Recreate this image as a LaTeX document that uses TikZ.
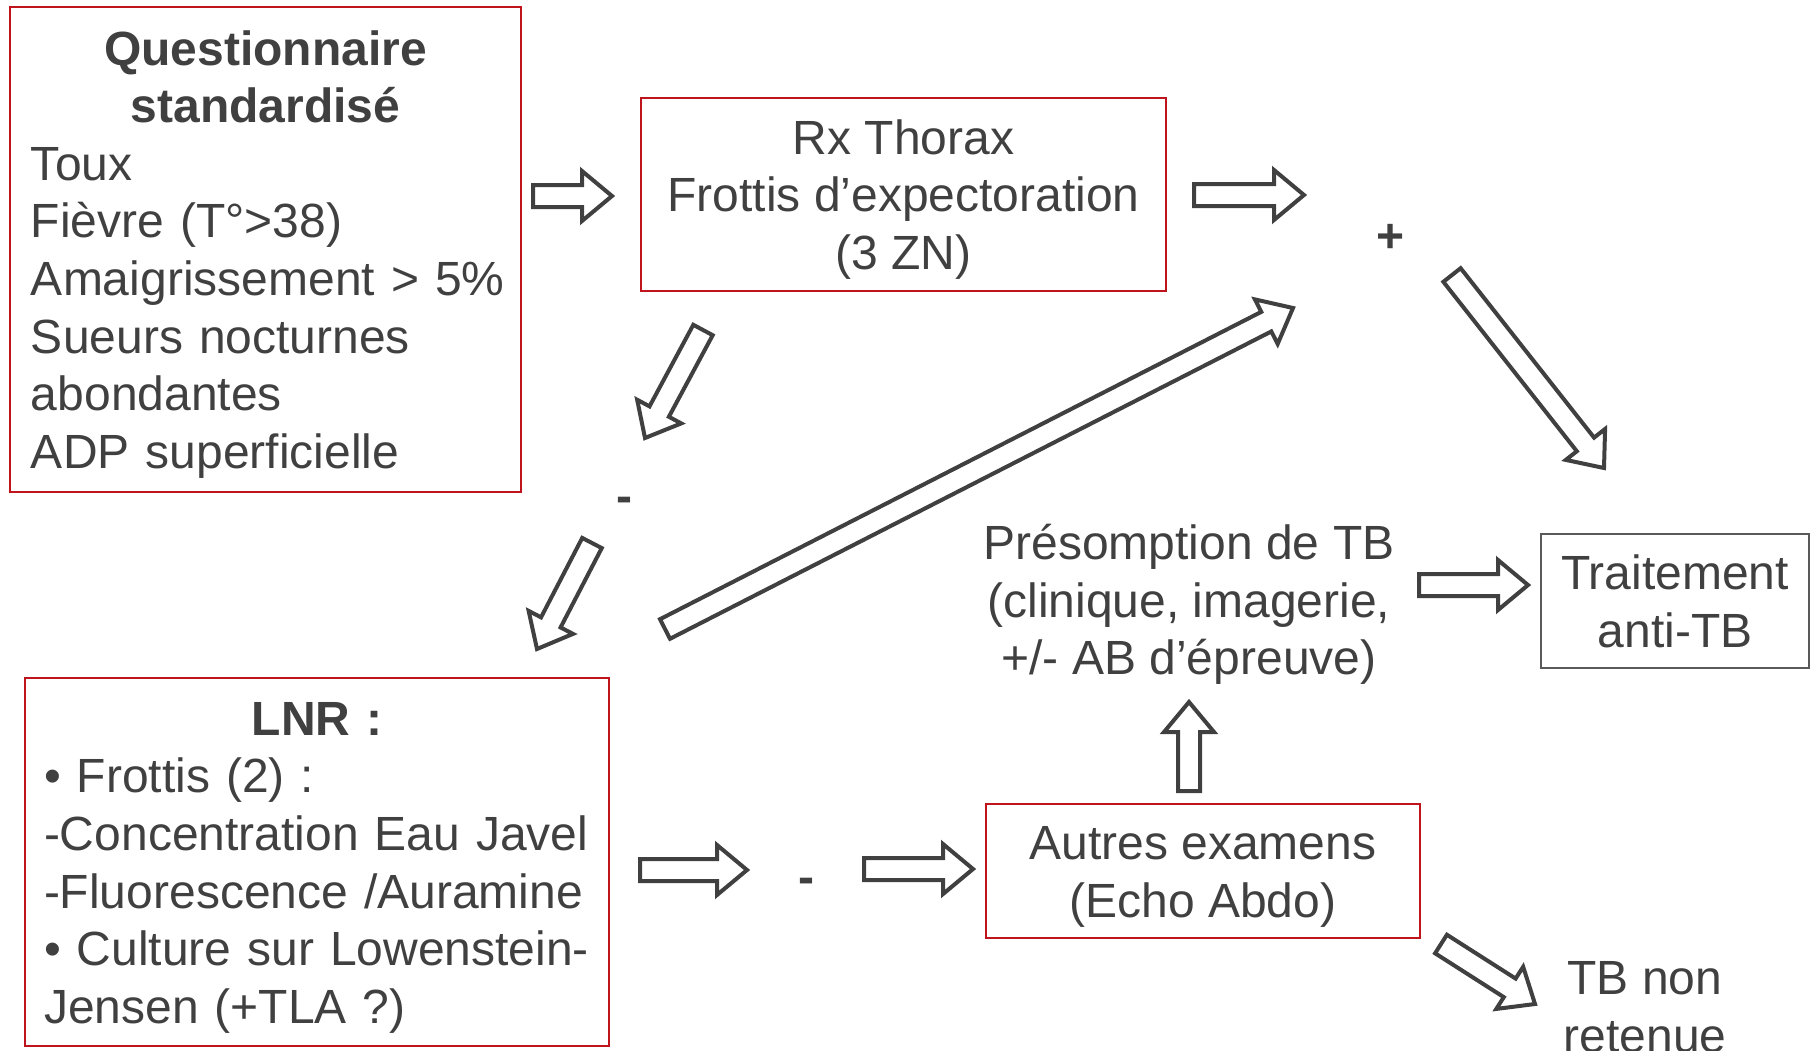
\documentclass[tikz,border=0pt]{standalone}
\usepackage{fontspec}
\setmainfont{Liberation Sans}
\usetikzlibrary{calc}
\definecolor{txtgray}{RGB}{64,64,64}
\definecolor{boxred}{RGB}{192,20,28}
\definecolor{boxgray}{RGB}{89,89,89}
\newcommand{\topln}{\rule{0pt}{23.2pt}}
\newcommand{\botln}{\rule[-6pt]{0pt}{6pt}}
\newcommand{\hollowarrow}[2]{%
  \coordinate (h) at ($(#2)!15pt!(#1)$);
  \draw[blockarrow] ($(#1)!5.5pt!90:(#2)$) -- ($(h)!5.5pt!90:(#2)$) -- ($(h)!12.5pt!90:(#2)$)
    -- (#2) -- ($(h)!12.5pt!-90:(#2)$) -- ($(h)!5.5pt!-90:(#2)$) -- ($(#1)!5.5pt!-90:(#2)$) -- cycle;}

\begin{document}
\begin{tikzpicture}[x=0.5pt,y=-0.5pt,
  every node/.style={text=txtgray,font=\fontsize{24}{28.8}\selectfont},
  redbox/.style={draw=boxred,line width=0.9pt,inner sep=0pt},
  graybox/.style={draw=boxgray,line width=0.9pt,inner sep=0pt},
  blockarrow/.style={draw=txtgray,fill=white,line width=2pt},
  sign/.style={font=\fontsize{24}{28.8}\selectfont\bfseries}]
  \useasboundingbox (0,0) rectangle (1810,1050);

  \node[redbox,minimum width=255.5pt,minimum height=242.5pt,text width=234.5pt,align=left] (quest) at (265.5,249.5)
    {\topln\makebox[\linewidth]{\bfseries Questionnaire}\\ \makebox[\linewidth]{\bfseries standardisé}\\ Toux\\ Fièvre (T°>38)\\
     \mbox{Amaigrissement > 5\%}\\ Sueurs nocturnes\\ abondantes\\ ADP superficielle\botln};
  \node[redbox,minimum width=262.5pt,minimum height=96.5pt,align=center] (rx) at (903.5,194.5)
    {\topln Rx Thorax\\ Frottis d’expectoration\\ (3 ZN)\botln};
  \node[align=center] (pres) at (1189,600) {\topln Présomption de TB\\ (clinique, imagerie,\\ +/- AB d’épreuve)\botln};
  \node[graybox,minimum width=134pt,minimum height=67pt,align=center] (trait) at (1675,601) {\topln Traitement\\ anti-TB\botln};
  \node[redbox,minimum width=292pt,minimum height=184pt,text width=273pt,align=left] (lnr) at (317,862)
    {\topln\makebox[\linewidth]{\bfseries LNR :}\\ \textbullet{} Frottis (2) :\\ -Concentration Eau Javel\\
     -Fluorescence /Auramine\\ \textbullet{} Culture sur Lowenstein-\\ Jensen (+TLA ?)\botln};
  \node[redbox,minimum width=217pt,minimum height=67pt,align=center] (autres) at (1203,871) {\topln Autres examens\\ (Echo Abdo)\botln};
  \node[align=center] (tbnon) at (1645,1006) {\topln TB non\\ retenue\botln};

  \node[sign] (plus) at (1390,238) {+};
  \node[sign] (moins1) at (624,505) {-};
  \node[sign] (moins2) at (806,886) {-};

  \coordinate (q-rx) at (533,196);   \coordinate (rx-in) at (612,196);
  \coordinate (rx-out) at (1194,195); \coordinate (plus-in) at (1304,195);
  \coordinate (plus-out) at (1452,275); \coordinate (trait-in) at (1604,468);
  \coordinate (rx-down) at (703,330); \coordinate (moins1-in) at (645,438);
  \coordinate (moins1-out) at (592,543); \coordinate (lnr-in) at (537,649);
  \coordinate (lnr-up) at (665,629); \coordinate (plus-up) at (1293,308);
  \coordinate (pres-out) at (1419,585); \coordinate (trait-left) at (1528,585);
  \coordinate (lnr-out) at (640,870); \coordinate (moins2-in) at (747,870);
  \coordinate (moins2-out) at (864,869); \coordinate (autres-in) at (973,869);
  \coordinate (autres-up) at (1189,791); \coordinate (pres-in) at (1189,702);
  \coordinate (autres-out) at (1441,944); \coordinate (tbnon-in) at (1535,1004);

  \hollowarrow{q-rx}{rx-in}
  \hollowarrow{rx-out}{plus-in}
  \hollowarrow{plus-out}{trait-in}
  \hollowarrow{rx-down}{moins1-in}
  \hollowarrow{moins1-out}{lnr-in}
  \hollowarrow{lnr-up}{plus-up}
  \hollowarrow{pres-out}{trait-left}
  \hollowarrow{lnr-out}{moins2-in}
  \hollowarrow{moins2-out}{autres-in}
  \hollowarrow{autres-up}{pres-in}
  \hollowarrow{autres-out}{tbnon-in}
\end{tikzpicture}
\end{document}
